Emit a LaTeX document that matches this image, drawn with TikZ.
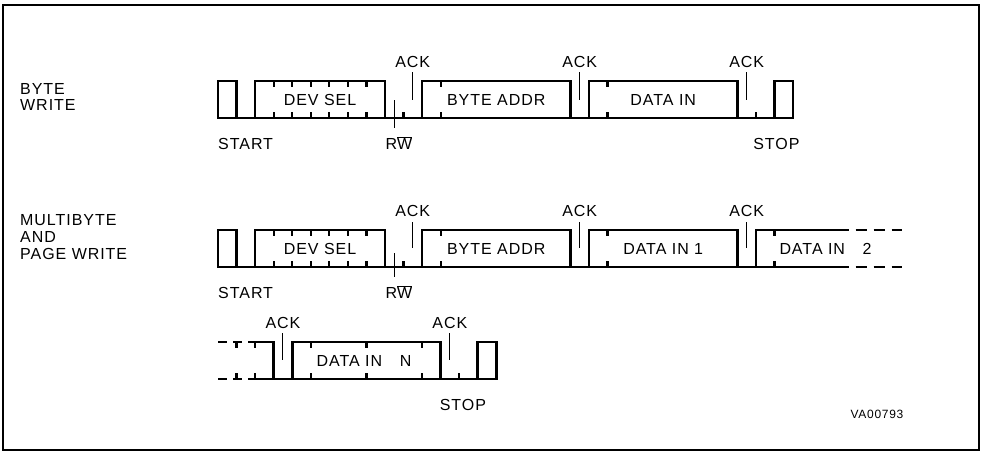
\documentclass[tikz,border=0pt]{standalone}
\usepackage{fontspec}
\setmainfont{Liberation Sans}[LetterSpace=6]
\usetikzlibrary{positioning}

\begin{document}
\begin{tikzpicture}[x=1pt, y=-1pt,
    every node/.style={font=\fontsize{16}{19}\selectfont, inner sep=0pt},
    sig/.style={line width=2.6pt, line join=miter},
    sigdash/.style={line width=2.6pt, dash pattern=on 9pt off 6pt},
    bittick/.style={line width=2.2pt},
    ackline/.style={line width=0.9pt},
    bits/.style={x=18.55pt, y=-37pt}]
  \useasboundingbox (0,0) rectangle (985,456);
  \draw[line width=1.4pt] (3,5) rectangle (979,450);

  % Row labels
  \node[anchor=west] (byte) at (20,89) {BYTE};
  \node[anchor=west] (write) at (20,105) {WRITE};
  \node[anchor=west] (multi) at (20,220) {MULTIBYTE};
  \node[anchor=west] (and) at (20,237) {AND};
  \node[anchor=west] (page) at (20,254) {PAGE WRITE};

  % Byte write
  \begin{scope}[shift={(218,81)}, bits]
    \draw[sig] (0,1) -- (0,0) -- (1,0) -- (1,1) -- (2,1) -- (2,0) -- (9,0) -- (9,1)
      -- (11,1) -- (11,0) -- (19,0) -- (19,1) -- (20,1) -- (20,0) -- (28,0) -- (28,1)
      -- (30,1) -- (30,0) -- (31,0) -- (31,1) -- cycle;
    \foreach \b in {3,...,8,12,...,18,21,...,27} {
      \draw[bittick] (\b,0) -- ++(0pt,-6pt);
      \draw[bittick] (\b,1) -- ++(0pt,6pt);
    }
    \foreach \b in {10,29}
      \draw[bittick] (\b,1) -- ++(0pt,6pt);
    % Acknowledge bits
    \foreach \b/\n in {10.5/ackA,19.5/ackB,28.5/ackC} {
      \draw[ackline] ([yshift=9pt]\b,0) -- ([yshift=18pt]\b,1);
      \node (\n) at ([yshift=19pt]\b,0) {ACK};
    }
    \draw[ackline] ([yshift=18pt]9.5,1) -- ([yshift=-10pt]9.5,1);
    \node (devselA) at (5.5,0.5) {DEV SEL};
    \node (addrA) at (15,0.5) {BYTE ADDR};
    \node (dataA) at (24,0.5) {DATA IN};
    \node[anchor=base west] (startA) at ([yshift=-31.5pt]0,1) {START};
    \node[anchor=base] (rwA) at ([yshift=-31.5pt]9.75,1) {R$\overline{\mbox{W}}$};
    \node[anchor=base] (stopA) at ([yshift=-31.5pt]30.1,1) {STOP};
  \end{scope}

  % Multibyte and page write
  \begin{scope}[shift={(218,230)}, bits]
    \draw[sig] (34,1) -- (0,1) -- (0,0) -- (1,0) -- (1,1) -- (2,1) -- (2,0) -- (9,0) -- (9,1)
      -- (11,1) -- (11,0) -- (19,0) -- (19,1) -- (20,1) -- (20,0) -- (28,0) -- (28,1)
      -- (29,1) -- (29,0) -- (34,0);
    \draw[sig, dash pattern=on 11pt off 7pt, dash phase=11pt] (34,0) -- (36.87,0);
    \draw[sig, dash pattern=on 11pt off 7pt, dash phase=11pt] (34,1) -- (36.87,1);
    \foreach \b in {3,...,8,12,...,18,21,...,27,30,...,36} {
      \draw[bittick] (\b,0) -- ++(0pt,-6pt);
      \draw[bittick] (\b,1) -- ++(0pt,6pt);
    }
    \draw[bittick] (10,1) -- ++(0pt,6pt);
    % Acknowledge bits
    \foreach \b/\n in {10.5/ackD,19.5/ackE,28.5/ackF} {
      \draw[ackline] ([yshift=8pt]\b,0) -- ([yshift=19pt]\b,1);
      \node (\n) at ([yshift=19pt]\b,0) {ACK};
    }
    \draw[ackline] ([yshift=14pt]9.5,1) -- ([yshift=-10pt]9.5,1);
    \node (devselB) at (5.5,0.5) {DEV SEL};
    \node (addrB) at (15,0.5) {BYTE ADDR};
    \node (dataB) at (24,0.5) {DATA IN 1};
    \node (dataC) at (32.75,0.5) {DATA IN\hspace{1.1em}2};
    \node[anchor=base west] (startB) at ([yshift=-31.5pt]0,1) {START};
    \node[anchor=base] (rwB) at ([yshift=-31.5pt]9.75,1) {R$\overline{\mbox{W}}$};
  \end{scope}

  % Continuation up to the last byte
  \begin{scope}[shift={(218,342)}, bits]
    \draw[sigdash] (0,0) -- (1.62,0);
    \draw[sigdash] (0,1) -- (1.62,1);
    \draw[sig] (1.62,0) -- (3,0) -- (3,1) -- (4,1) -- (4,0) -- (12,0) -- (12,1)
      -- (14,1) -- (14,0) -- (15,0) -- (15,1) -- (1.62,1);
    \foreach \b in {1,2,5,...,11} {
      \draw[bittick] (\b,0) -- ++(0pt,-6pt);
      \draw[bittick] (\b,1) -- ++(0pt,6pt);
    }
    \draw[bittick] (13,1) -- ++(0pt,6pt);
    \foreach \b/\n in {3.5/ackG,12.5/ackH} {
      \draw[ackline] ([yshift=9pt]\b,0) -- ([yshift=19pt]\b,1);
      \node (\n) at ([yshift=19pt]\b,0) {ACK};
    }
    \node (dataD) at (7.87,0.5) {DATA IN\hspace{1.1em}N};
    \node[anchor=base] (stopB) at ([yshift=-31.5pt]13.2,1) {STOP};
  \end{scope}

  \node[font=\fontsize{12}{14}\selectfont] (code) at (877,414) {VA00793};
\end{tikzpicture}
\end{document}
